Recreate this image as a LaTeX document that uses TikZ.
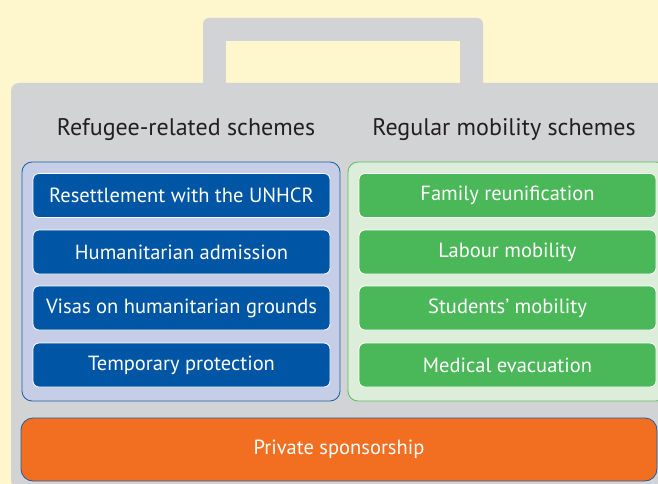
\documentclass[tikz,border=0pt]{standalone}
\usepackage{fontspec}
\setmainfont{PT Sans}
\usetikzlibrary{shapes}
\definecolor{cream}{HTML}{FEF6CC}
\definecolor{casegrey}{HTML}{D1D3D4}
\definecolor{schemeblue}{HTML}{0056A5}
\definecolor{paleblue}{HTML}{C6CEE7}
\definecolor{edgeblue}{HTML}{1E5CA3}
\definecolor{schemegreen}{HTML}{4AB858}
\definecolor{palegreen}{HTML}{DCEDD9}
\definecolor{edgegreen}{HTML}{5CBB63}
\definecolor{sponsororange}{HTML}{F26F22}
\definecolor{titlegrey}{HTML}{231F20}
\tikzstyle{bx}=[rectangle,rounded corners=6pt,draw=white,line width=.8pt,minimum width=297pt,minimum height=44pt,inner sep=0pt,text=white,font=\fontsize{20.5}{24}\selectfont]
\tikzstyle{bluebx}=[bx,fill=schemeblue]
\tikzstyle{greenbx}=[bx,fill=schemegreen]
\tikzstyle{panel}=[rectangle,rounded corners=10pt,line width=.8pt,minimum width=318pt,minimum height=239pt,inner sep=0pt]
\tikzstyle{ttl}=[text=titlegrey,font=\fontsize{24}{28}\selectfont]

\begin{document}
\begin{tikzpicture}[x=1pt,y=-1pt]
\useasboundingbox (0,0) rectangle (658,484);
\clip (0,0) rectangle (658,484);
\fill[cream] (0,0) rectangle (658,484);
\fill[casegrey,rounded corners=6pt] (203,90) -- (203,18) -- (483,18) -- (483,90) -- cycle;
\fill[cream] (226,41) rectangle (460,84);
\fill[casegrey,rounded corners=8pt] (11,488) -- (11,83) -- (680,83) -- (680,488) -- cycle;
\node[ttl] (reftitle) at (186,130) {Refugee-related schemes};
\node[ttl] (regtitle) at (504,130) {Regular mobility schemes};
\node[panel,fill=paleblue,draw=edgeblue] (refpanel) at (181,281.5) {};
\node[panel,fill=palegreen,draw=edgegreen] (regpanel) at (507,281.5) {};
\node[bluebx] (resettle) at (181.5,195.5) {Resettlement with the UNHCR};
\node[bluebx] (humadm) at (181.5,252) {Humanitarian admission};
\node[bluebx] (visas) at (181.5,308) {Visas on humanitarian grounds};
\node[bluebx] (temprot) at (181.5,365) {Temporary protection};
\node[greenbx] (family) at (507.5,195.5) {Family reunification};
\node[greenbx] (labour) at (507.5,252) {Labour mobility};
\node[greenbx] (students) at (507.5,308) {Students’ mobility};
\node[greenbx] (medevac) at (507.5,365) {Medical evacuation};
\node[rectangle,rounded corners=12pt,fill=sponsororange,draw=edgeblue,line width=.8pt,minimum width=636pt,minimum height=63pt,inner sep=0pt,text=white,font=\fontsize{20.5}{24}\selectfont] (private) at (339,449.5) {Private sponsorship};
\end{tikzpicture}
\end{document}
